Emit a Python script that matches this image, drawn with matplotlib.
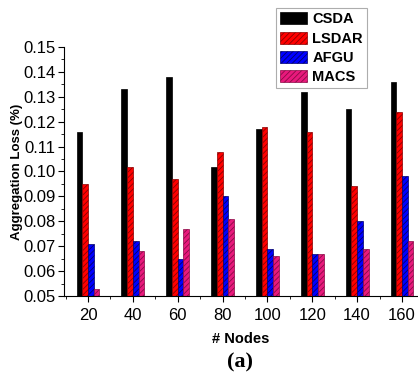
import matplotlib.pyplot as plt
import numpy as np
from matplotlib.ticker import MultipleLocator
from matplotlib.patches import Patch

# Pérdida de agregación por número de nodos
nodes = ['20', '40', '60', '80', '100', '120', '140', '160']
csda = [0.116, 0.133, 0.138, 0.102, 0.117, 0.132, 0.125, 0.136]
lsdar = [0.095, 0.102, 0.097, 0.108, 0.118, 0.116, 0.094, 0.124]
afgu = [0.071, 0.072, 0.065, 0.090, 0.069, 0.067, 0.080, 0.098]
macs = [0.053, 0.068, 0.077, 0.081, 0.066, 0.067, 0.069, 0.072]

series = [
    ('CSDA', csda, '#000000', '#000000', ''),
    ('LSDAR', lsdar, '#ff0000', '#8a0000', '//////'),
    ('AFGU', afgu, '#0000ff', '#00006a', '//////'),
    ('MACS', macs, '#e8197c', '#8a0a45', '//////'),
]

plt.rcParams['font.family'] = 'Liberation Sans'
plt.rcParams['hatch.linewidth'] = 0.6

fig = plt.figure(figsize=(4.18, 3.76), dpi=100)
ax = fig.add_axes([0.153, 0.2128, 0.847, 0.6622])

x = np.arange(1, len(nodes) + 1)
w = 0.127
for i, (name, vals, fc, hc, hatch) in enumerate(series):
    pos = x + (i - 1.5) * w
    ax.bar(pos, np.array(vals) - 0.05, w, bottom=0.05, color=fc,
           edgecolor=hc, hatch=hatch, linewidth=0.5)

ax.set_xlim(0.465, 8.357)
ax.set_ylim(0.05, 0.15)
ax.set_xticks(x)
ax.set_xticklabels(nodes)
ax.xaxis.set_minor_locator(MultipleLocator(0.5))
ax.yaxis.set_major_locator(MultipleLocator(0.01))
ax.yaxis.set_minor_locator(MultipleLocator(0.005))
ax.yaxis.set_major_formatter(plt.FormatStrFormatter('%.2f'))
ax.tick_params(axis='both', which='major', labelsize=12, direction='out', length=4)
ax.tick_params(axis='both', which='minor', direction='out', length=2.5)
ax.tick_params(axis='x', pad=5)
ax.tick_params(axis='y', pad=2)

ax.spines['top'].set_visible(False)
ax.spines['right'].set_visible(False)

ax.set_xlabel('# Nodes', fontsize=10.5, fontweight='bold', labelpad=6)
ax.set_ylabel('Aggregation Loss (%)', fontsize=9.5, fontweight='bold', labelpad=0)

handles = [Patch(facecolor=fc, edgecolor=hc, hatch=hatch, linewidth=0.5)
           for name, vals, fc, hc, hatch in series]
leg = fig.legend(handles, [s[0] for s in series], loc='upper left',
                 bbox_to_anchor=(276 / 418, 1 - 8 / 376),
                 prop={'weight': 'bold', 'size': 10.5}, frameon=True, fancybox=False,
                 edgecolor='#999999', handlelength=1.8, handleheight=0.9,
                 labelspacing=0.35, borderpad=0.3, handletextpad=0.4, borderaxespad=0)
leg.get_frame().set_linewidth(0.8)

fig.text(0.575, 0.037, '(a)', ha='center', va='center', fontsize=16,
         fontweight='bold', family='Liberation Serif')

fig.savefig('out.png', dpi=100)
